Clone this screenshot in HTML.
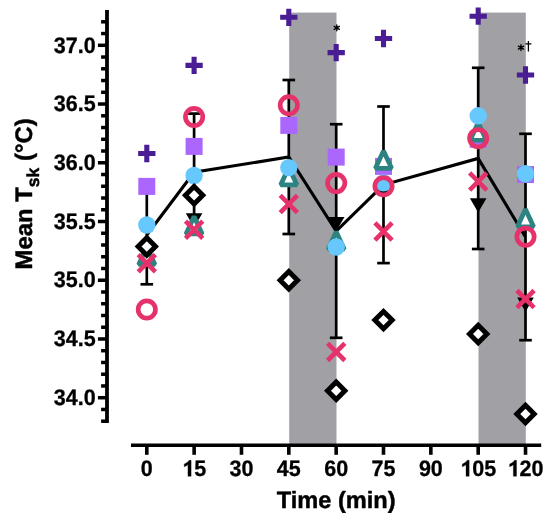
<!DOCTYPE html>
<html><head><meta charset="utf-8"><style>
html,body{margin:0;padding:0;background:#fff;}
svg{display:block;will-change:transform;}
.t{font-family:"Liberation Sans",sans-serif;font-weight:bold;font-size:21.5px;text-rendering:geometricPrecision;stroke:#000;stroke-width:0.3px;stroke-linejoin:round;}
.t2{font-family:"Liberation Sans",sans-serif;font-weight:bold;font-size:23.6px;text-rendering:geometricPrecision;stroke:#000;stroke-width:0.45px;stroke-linejoin:round;}
.a{font-family:"Liberation Sans",sans-serif;font-size:14px;}
.a2{font-family:"Liberation Sans",sans-serif;font-size:14px;}
</style></head><body>
<svg width="550" height="519" viewBox="0 0 550 519">
<rect x="289.2" y="12.6" width="47.3" height="431.5" fill="#a1a0a5"/>
<rect x="478.5" y="12.6" width="47.3" height="431.5" fill="#a1a0a5"/>
<polyline points="146.8,235 194.1,172.3 288.8,157 336.2,231 383.5,184.8 478.2,158.4 525.5,237" fill="none" stroke="#000" stroke-width="3.1" stroke-linejoin="miter"/>
<line x1="146.8" y1="185.7" x2="146.8" y2="284.3" stroke="#000" stroke-width="2.7"/>
<line x1="140.5" y1="185.7" x2="153.10" y2="185.7" stroke="#000" stroke-width="2.7"/>
<line x1="140.5" y1="284.3" x2="153.10" y2="284.3" stroke="#000" stroke-width="2.7"/>
<line x1="194.1" y1="113.60" x2="194.1" y2="231.0" stroke="#000" stroke-width="2.7"/>
<line x1="187.80" y1="113.60" x2="200.4" y2="113.60" stroke="#000" stroke-width="2.7"/>
<line x1="187.80" y1="231.0" x2="200.4" y2="231.0" stroke="#000" stroke-width="2.7"/>
<line x1="288.8" y1="80" x2="288.8" y2="234" stroke="#000" stroke-width="2.7"/>
<line x1="282.5" y1="80" x2="295.1" y2="80" stroke="#000" stroke-width="2.7"/>
<line x1="282.5" y1="234" x2="295.1" y2="234" stroke="#000" stroke-width="2.7"/>
<line x1="336.2" y1="124.2" x2="336.2" y2="337.8" stroke="#000" stroke-width="2.7"/>
<line x1="329.9" y1="124.2" x2="342.5" y2="124.2" stroke="#000" stroke-width="2.7"/>
<line x1="329.9" y1="337.8" x2="342.5" y2="337.8" stroke="#000" stroke-width="2.7"/>
<line x1="383.5" y1="106.50" x2="383.5" y2="263.1" stroke="#000" stroke-width="2.7"/>
<line x1="377.2" y1="106.50" x2="389.8" y2="106.50" stroke="#000" stroke-width="2.7"/>
<line x1="377.2" y1="263.1" x2="389.8" y2="263.1" stroke="#000" stroke-width="2.7"/>
<line x1="478.2" y1="67.80" x2="478.2" y2="249.0" stroke="#000" stroke-width="2.7"/>
<line x1="471.9" y1="67.80" x2="484.5" y2="67.80" stroke="#000" stroke-width="2.7"/>
<line x1="471.9" y1="249.0" x2="484.5" y2="249.0" stroke="#000" stroke-width="2.7"/>
<line x1="525.5" y1="133.8" x2="525.5" y2="340.2" stroke="#000" stroke-width="2.7"/>
<line x1="519.2" y1="133.8" x2="531.8" y2="133.8" stroke="#000" stroke-width="2.7"/>
<line x1="519.2" y1="340.2" x2="531.8" y2="340.2" stroke="#000" stroke-width="2.7"/>
<path d="M185.80,213.3L202.4,213.3L194.1,227.5Z" fill="#000"/>
<path d="M327.9,216.9L344.5,216.9L336.2,231.1Z" fill="#000"/>
<path d="M375.2,184.0L391.8,184.0L383.5,198.2Z" fill="#000"/>
<path d="M469.9,198.2L486.5,198.2L478.2,212.40Z" fill="#000"/>
<path d="M517.2,297.5L533.8,297.5L525.5,311.7Z" fill="#000"/>
<rect x="138.3" y="177.9" width="17.0" height="17.0" fill="#ab66fd"/>
<rect x="185.6" y="137.9" width="17.0" height="17.0" fill="#ab66fd"/>
<rect x="280.3" y="116.9" width="17.0" height="17.0" fill="#ab66fd"/>
<rect x="327.7" y="148.6" width="17.0" height="17.0" fill="#ab66fd"/>
<rect x="375.0" y="157.9" width="17.0" height="17.0" fill="#ab66fd"/>
<rect x="469.7" y="130.8" width="17.0" height="17.0" fill="#ab66fd"/>
<rect x="517.0" y="166.0" width="17.0" height="17.0" fill="#ab66fd"/>
<path d="M146.8,247.05L154.9,264.45L138.70,264.45Z" fill="#fff" stroke="#2d8282" stroke-width="4.7" stroke-linejoin="bevel"/>
<path d="M194.1,216.55L202.2,233.95L186.0,233.95Z" fill="#fff" stroke="#2d8282" stroke-width="4.7" stroke-linejoin="bevel"/>
<path d="M288.8,167.45L296.90,184.85L280.7,184.85Z" fill="#fff" stroke="#2d8282" stroke-width="4.7" stroke-linejoin="bevel"/>
<path d="M336.2,231.85L344.3,249.25L328.10,249.25Z" fill="#fff" stroke="#2d8282" stroke-width="4.7" stroke-linejoin="bevel"/>
<path d="M383.5,150.95L391.6,168.35L375.4,168.35Z" fill="#fff" stroke="#2d8282" stroke-width="4.7" stroke-linejoin="bevel"/>
<path d="M478.2,122.85L486.3,140.25L470.10,140.25Z" fill="#fff" stroke="#2d8282" stroke-width="4.7" stroke-linejoin="bevel"/>
<path d="M525.5,209.35L533.6,226.75L517.4,226.75Z" fill="#fff" stroke="#2d8282" stroke-width="4.7" stroke-linejoin="bevel"/>
<circle cx="146.8" cy="225" r="8.7" fill="#66c8fc"/>
<circle cx="194.1" cy="175.5" r="8.7" fill="#66c8fc"/>
<circle cx="288.8" cy="167.6" r="8.7" fill="#66c8fc"/>
<circle cx="336.2" cy="247" r="8.7" fill="#66c8fc"/>
<circle cx="383.5" cy="182.9" r="8.7" fill="#66c8fc"/>
<circle cx="478.2" cy="115.8" r="8.7" fill="#66c8fc"/>
<circle cx="525.5" cy="173.8" r="8.7" fill="#66c8fc"/>
<circle cx="146.8" cy="309.5" r="8.65" fill="none" stroke="#e6326a" stroke-width="4.7"/>
<circle cx="194.1" cy="117" r="8.65" fill="none" stroke="#e6326a" stroke-width="4.7"/>
<circle cx="288.8" cy="105.3" r="8.65" fill="none" stroke="#e6326a" stroke-width="4.7"/>
<circle cx="336.2" cy="183.1" r="8.65" fill="none" stroke="#e6326a" stroke-width="4.7"/>
<circle cx="383.5" cy="186.3" r="8.65" fill="none" stroke="#e6326a" stroke-width="4.7"/>
<circle cx="478.2" cy="138.2" r="8.65" fill="none" stroke="#e6326a" stroke-width="4.7"/>
<circle cx="525.5" cy="236.7" r="8.65" fill="none" stroke="#e6326a" stroke-width="4.7"/>
<path d="M138.20,254.6L155.4,271.8M138.20,271.8L155.4,254.6" stroke="#e6326a" stroke-width="4.6" fill="none"/>
<path d="M185.5,221.20L202.7,238.4M185.5,238.4L202.7,221.20" stroke="#e6326a" stroke-width="4.6" fill="none"/>
<path d="M280.2,195.4L297.40,212.6M280.2,212.6L297.40,195.4" stroke="#e6326a" stroke-width="4.6" fill="none"/>
<path d="M327.60,343.30L344.8,360.5M327.60,360.5L344.8,343.30" stroke="#e6326a" stroke-width="4.6" fill="none"/>
<path d="M374.9,222.9L392.1,240.1M374.9,240.1L392.1,222.9" stroke="#e6326a" stroke-width="4.6" fill="none"/>
<path d="M469.60,172.9L486.8,190.1M469.60,190.1L486.8,172.9" stroke="#e6326a" stroke-width="4.6" fill="none"/>
<path d="M516.9,290.5L534.1,307.70M516.9,307.70L534.1,290.5" stroke="#e6326a" stroke-width="4.6" fill="none"/>
<path d="M146.8,237.80L155.50,246.5L146.8,255.20L138.10,246.5Z" fill="#fff" stroke="#000" stroke-width="4.95" stroke-linejoin="miter"/>
<path d="M194.1,186.60L202.80,195.3L194.1,204.00L185.40,195.3Z" fill="#fff" stroke="#000" stroke-width="4.95" stroke-linejoin="miter"/>
<path d="M288.8,271.50L297.50,280.2L288.8,288.90L280.10,280.2Z" fill="#fff" stroke="#000" stroke-width="4.95" stroke-linejoin="miter"/>
<path d="M336.2,382.10L344.90,390.8L336.2,399.50L327.50,390.8Z" fill="#fff" stroke="#000" stroke-width="4.95" stroke-linejoin="miter"/>
<path d="M383.5,311.40L392.20,320.1L383.5,328.80L374.80,320.1Z" fill="#fff" stroke="#000" stroke-width="4.95" stroke-linejoin="miter"/>
<path d="M478.2,325.30L486.90,334L478.2,342.70L469.50,334Z" fill="#fff" stroke="#000" stroke-width="4.95" stroke-linejoin="miter"/>
<path d="M525.5,405.30L534.20,414L525.5,422.70L516.80,414Z" fill="#fff" stroke="#000" stroke-width="4.95" stroke-linejoin="miter"/>
<path d="M138.15,150.95h17.3v5.1h-17.3z M144.25,144.85h5.1v17.3h-5.1z" fill="#4a1d95"/>
<path d="M185.45,62.85h17.3v5.1h-17.3z M191.55,56.75h5.1v17.3h-5.1z" fill="#4a1d95"/>
<path d="M280.15,14.75h17.3v5.1h-17.3z M286.25,8.65h5.1v17.3h-5.1z" fill="#4a1d95"/>
<path d="M327.55,50.05h17.3v5.1h-17.3z M333.65,43.95h5.1v17.3h-5.1z" fill="#4a1d95"/>
<path d="M374.85,35.95h17.3v5.1h-17.3z M380.95,29.85h5.1v17.3h-5.1z" fill="#4a1d95"/>
<path d="M469.55,13.65h17.3v5.1h-17.3z M475.65,7.55h5.1v17.3h-5.1z" fill="#4a1d95"/>
<path d="M516.85,72.45h17.3v5.1h-17.3z M522.95,66.35h5.1v17.3h-5.1z" fill="#4a1d95"/>
<path d="M107,10V423" stroke="#000" stroke-width="3.8"/>
<path d="M101.1,421.20H107" stroke="#000" stroke-width="3.5"/>
<path d="M101.1,409.46H107" stroke="#000" stroke-width="3.5"/>
<path d="M97.9,397.71H107" stroke="#000" stroke-width="3.5"/>
<path d="M101.1,385.96H107" stroke="#000" stroke-width="3.5"/>
<path d="M101.1,374.22H107" stroke="#000" stroke-width="3.5"/>
<path d="M101.1,362.47H107" stroke="#000" stroke-width="3.5"/>
<path d="M101.1,350.72H107" stroke="#000" stroke-width="3.5"/>
<path d="M97.9,338.98H107" stroke="#000" stroke-width="3.5"/>
<path d="M101.1,327.23H107" stroke="#000" stroke-width="3.5"/>
<path d="M101.1,315.48H107" stroke="#000" stroke-width="3.5"/>
<path d="M101.1,303.73H107" stroke="#000" stroke-width="3.5"/>
<path d="M101.1,291.99H107" stroke="#000" stroke-width="3.5"/>
<path d="M97.9,280.24H107" stroke="#000" stroke-width="3.5"/>
<path d="M101.1,268.49H107" stroke="#000" stroke-width="3.5"/>
<path d="M101.1,256.75H107" stroke="#000" stroke-width="3.5"/>
<path d="M101.1,245.00H107" stroke="#000" stroke-width="3.5"/>
<path d="M101.1,233.25H107" stroke="#000" stroke-width="3.5"/>
<path d="M97.9,221.50H107" stroke="#000" stroke-width="3.5"/>
<path d="M101.1,209.76H107" stroke="#000" stroke-width="3.5"/>
<path d="M101.1,198.01H107" stroke="#000" stroke-width="3.5"/>
<path d="M101.1,186.26H107" stroke="#000" stroke-width="3.5"/>
<path d="M101.1,174.52H107" stroke="#000" stroke-width="3.5"/>
<path d="M97.9,162.77H107" stroke="#000" stroke-width="3.5"/>
<path d="M101.1,151.02H107" stroke="#000" stroke-width="3.5"/>
<path d="M101.1,139.28H107" stroke="#000" stroke-width="3.5"/>
<path d="M101.1,127.53H107" stroke="#000" stroke-width="3.5"/>
<path d="M101.1,115.78H107" stroke="#000" stroke-width="3.5"/>
<path d="M97.9,104.03H107" stroke="#000" stroke-width="3.5"/>
<path d="M101.1,92.29H107" stroke="#000" stroke-width="3.5"/>
<path d="M101.1,80.54H107" stroke="#000" stroke-width="3.5"/>
<path d="M101.1,68.79H107" stroke="#000" stroke-width="3.5"/>
<path d="M101.1,57.05H107" stroke="#000" stroke-width="3.5"/>
<path d="M97.9,45.30H107" stroke="#000" stroke-width="3.5"/>
<path d="M101.1,33.55H107" stroke="#000" stroke-width="3.5"/>
<path d="M101.1,21.81H107" stroke="#000" stroke-width="3.5"/>
<text transform="translate(53.76,52.50) scale(1,1.04)" class="t">3</text>
<text transform="translate(65.72,52.50) scale(1,1.04)" class="t">7</text>
<text transform="translate(77.67,52.50) scale(1,1.04)" class="t">.</text>
<text transform="translate(83.65,52.50) scale(1,1.04)" class="t">0</text>
<text transform="translate(53.76,111.23) scale(1,1.04)" class="t">3</text>
<text transform="translate(65.72,111.23) scale(1,1.04)" class="t">6</text>
<text transform="translate(77.67,111.23) scale(1,1.04)" class="t">.</text>
<text transform="translate(83.65,111.23) scale(1,1.04)" class="t">5</text>
<text transform="translate(53.76,169.97) scale(1,1.04)" class="t">3</text>
<text transform="translate(65.72,169.97) scale(1,1.04)" class="t">6</text>
<text transform="translate(77.67,169.97) scale(1,1.04)" class="t">.</text>
<text transform="translate(83.65,169.97) scale(1,1.04)" class="t">0</text>
<text transform="translate(53.76,228.70) scale(1,1.04)" class="t">3</text>
<text transform="translate(65.72,228.70) scale(1,1.04)" class="t">5</text>
<text transform="translate(77.67,228.70) scale(1,1.04)" class="t">.</text>
<text transform="translate(83.65,228.70) scale(1,1.04)" class="t">5</text>
<text transform="translate(53.76,287.44) scale(1,1.04)" class="t">3</text>
<text transform="translate(65.72,287.44) scale(1,1.04)" class="t">5</text>
<text transform="translate(77.67,287.44) scale(1,1.04)" class="t">.</text>
<text transform="translate(83.65,287.44) scale(1,1.04)" class="t">0</text>
<text transform="translate(53.76,346.18) scale(1,1.04)" class="t">3</text>
<text transform="translate(65.72,346.18) scale(1,1.04)" class="t">4</text>
<text transform="translate(77.67,346.18) scale(1,1.04)" class="t">.</text>
<text transform="translate(83.65,346.18) scale(1,1.04)" class="t">5</text>
<text transform="translate(53.76,404.91) scale(1,1.04)" class="t">3</text>
<text transform="translate(65.72,404.91) scale(1,1.04)" class="t">4</text>
<text transform="translate(77.67,404.91) scale(1,1.04)" class="t">.</text>
<text transform="translate(83.65,404.91) scale(1,1.04)" class="t">0</text>
<path d="M131,445.3H541.2" stroke="#000" stroke-width="3.6"/>
<path d="M146.80,445V454.8" stroke="#000" stroke-width="3.6"/>
<text transform="translate(140.82,476.30) scale(1,1.04)" class="t">0</text>
<path d="M194.14,445V454.8" stroke="#000" stroke-width="3.6"/>
<path d="M187.93,476.30L191.13,476.30L191.13,460.29L189.17,460.29L187.99,461.65L185.84,463.22L184.23,464.00L184.23,466.69L186.06,465.97L187.93,464.78Z" fill="#000" stroke="#000" stroke-width="0.3" stroke-linejoin="round"/>
<text transform="translate(194.14,476.30) scale(1,1.04)" class="t">5</text>
<path d="M241.48,445V454.8" stroke="#000" stroke-width="3.6"/>
<text transform="translate(229.53,476.30) scale(1,1.04)" class="t">3</text>
<text transform="translate(241.48,476.30) scale(1,1.04)" class="t">0</text>
<path d="M288.82,445V454.8" stroke="#000" stroke-width="3.6"/>
<text transform="translate(276.87,476.30) scale(1,1.04)" class="t">4</text>
<text transform="translate(288.82,476.30) scale(1,1.04)" class="t">5</text>
<path d="M336.16,445V454.8" stroke="#000" stroke-width="3.6"/>
<text transform="translate(324.21,476.30) scale(1,1.04)" class="t">6</text>
<text transform="translate(336.16,476.30) scale(1,1.04)" class="t">0</text>
<path d="M383.50,445V454.8" stroke="#000" stroke-width="3.6"/>
<text transform="translate(371.55,476.30) scale(1,1.04)" class="t">7</text>
<text transform="translate(383.50,476.30) scale(1,1.04)" class="t">5</text>
<path d="M430.84,445V454.8" stroke="#000" stroke-width="3.6"/>
<text transform="translate(418.89,476.30) scale(1,1.04)" class="t">9</text>
<text transform="translate(430.84,476.30) scale(1,1.04)" class="t">0</text>
<path d="M478.18,445V454.8" stroke="#000" stroke-width="3.6"/>
<path d="M465.99,476.30L469.19,476.30L469.19,460.29L467.24,460.29L466.05,461.65L463.90,463.22L462.29,464.00L462.29,466.69L464.12,465.97L465.99,464.78Z" fill="#000" stroke="#000" stroke-width="0.3" stroke-linejoin="round"/>
<text transform="translate(472.20,476.30) scale(1,1.04)" class="t">0</text>
<text transform="translate(484.16,476.30) scale(1,1.04)" class="t">5</text>
<path d="M525.52,445V454.8" stroke="#000" stroke-width="3.6"/>
<path d="M513.33,476.30L516.53,476.30L516.53,460.29L514.58,460.29L513.39,461.65L511.24,463.22L509.63,464.00L509.63,466.69L511.46,465.97L513.33,464.78Z" fill="#000" stroke="#000" stroke-width="0.3" stroke-linejoin="round"/>
<text transform="translate(519.54,476.30) scale(1,1.04)" class="t">2</text>
<text transform="translate(531.50,476.30) scale(1,1.04)" class="t">0</text>
<text x="336.2" y="508.2" text-anchor="middle" class="t2">Time (min)</text>
<text transform="translate(31.6,193.9) rotate(-90)" text-anchor="middle" class="t2" style="font-size:23.9px">Mean T<tspan style="font-size:17.5px" dy="7">sk</tspan><tspan dy="-7"> (°C)</tspan></text>
<path d="M336.80,30.80L336.80,24.80M334.20,29.30L339.40,26.30M334.20,26.30L339.40,29.30" stroke="#000" stroke-width="1.35" stroke-linecap="round" fill="none"/>
<path d="M521.00,50.60L521.00,44.60M518.40,49.10L523.60,46.10M518.40,46.10L523.60,49.10" stroke="#000" stroke-width="1.35" stroke-linecap="round" fill="none"/>
<path d="M528.4,41V51.6M525.4,43.8H531.4" stroke="#000" stroke-width="1.3" fill="none"/>
</svg>
</body></html>
